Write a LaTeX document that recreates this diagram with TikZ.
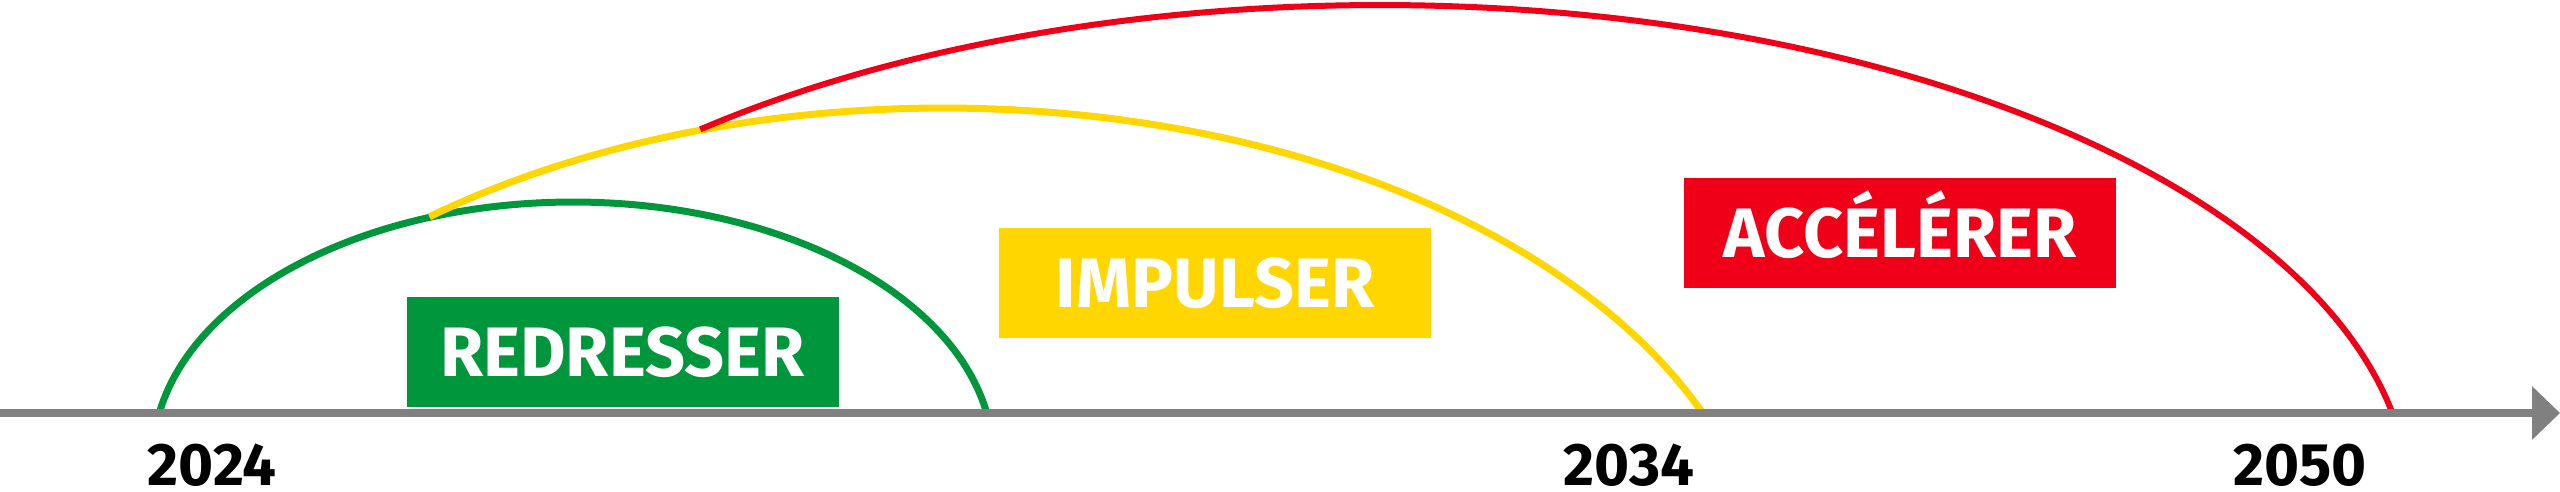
\documentclass[tikz,border=0pt]{standalone}
\usepackage{fontspec}
\setsansfont{Fira Sans}
\usetikzlibrary{arrows.meta}
\definecolor{cgreen}{RGB}{0,150,60}
\definecolor{cyellow}{RGB}{255,214,0}
\definecolor{cred}{RGB}{240,0,24}
\definecolor{caxis}{RGB}{128,128,128}
\tikzset{
  phasebox/.style={rectangle, inner sep=0pt, minimum width=432pt, minimum height=110pt,
    text=white, font=\sffamily\bfseries\fontsize{70}{72}\selectfont,
    text height=48pt, text depth=0pt},
  yearlabel/.style={inner sep=0pt, anchor=base, text=black,
    text height=42pt, text depth=0pt,
    font=\sffamily\bfseries\fontsize{60}{62}\selectfont},
  arcline/.style={line width=7pt},
  axisline/.style={line width=8pt, draw=caxis, -{Triangle[length=28pt,width=52pt]}}
}
\begin{document}
\begin{tikzpicture}[x=1pt,y=-1pt]
\useasboundingbox (0,0) rectangle (2560,491);
% arcs
\draw[arcline, draw=cgreen] plot[domain=9.93:170.07, samples=150, variable=\t]
  ({573+420*cos(\t)}, {457-255*sin(\t)});
\draw[arcline, draw=cyellow] plot[domain=22.95:128.5, samples=150, variable=\t]
  ({943+825*cos(\t)}, {608-500*sin(\t)});
\draw[arcline, line width=6pt, draw=cred] plot[domain=10.6:131.3, samples=150, variable=\t]
  ({1380+1030*cos(\t)}, {505-500*sin(\t)});
% boxes
\node[phasebox, fill=cgreen] (redresser) at (622.5,352) {REDRESSER};
\node[phasebox, fill=cyellow] (impulser) at (1215,283) {IMPULSER};
\node[phasebox, fill=cred] (accelerer) at (1900,233) {ACCÉLÉRER};
% axis
\coordinate (axstart) at (0,413);
\coordinate (axend) at (2560,413);
\draw[axisline] (axstart) -- (axend);
% years
\node[yearlabel] (y2024) at (212,485) {2024};
\node[yearlabel] (y2034) at (1629,485) {2034};
\node[yearlabel] (y2050) at (2300,485) {2050};
\end{tikzpicture}
\end{document}
